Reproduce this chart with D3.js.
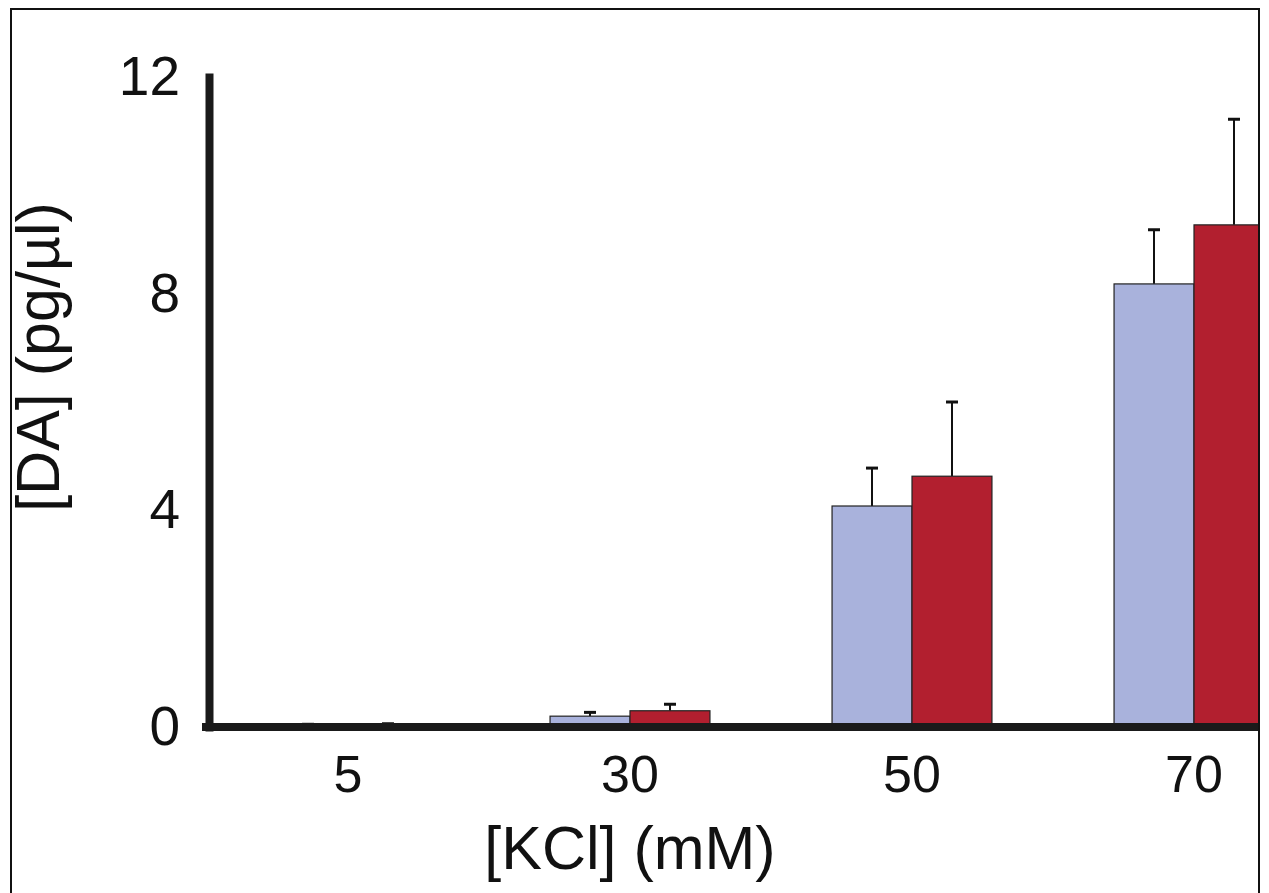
<!DOCTYPE html>
<html><head><meta charset="utf-8">
<script src="https://cdn.jsdelivr.net/npm/d3@7"></script>
<style>
html,body{margin:0;padding:0;background:#fff;}
svg{display:block;font-family:"Liberation Sans",Arial,sans-serif;}
</style></head>
<body><svg id="c" width="1269" height="893"></svg>
<script>
const categories = ["5", "30", "50", "70"];
const seriesNames = ["control", "treated"];
const controlValues = [0.03, 0.20, 4.08, 8.18];
const treatedValues = [0.04, 0.30, 4.63, 9.27];
const controlErrors = [0.02, 0.07, 0.70, 1.00];
const treatedErrors = [0.02, 0.12, 1.37, 1.95];
const yTicks = [0, 4, 8, 12];
const xTitle = "[KCl] (mM)";
const yTitle = "[DA] (pg/µl)";

const colors = {control: "#a9b2dc", treated: "#b21f2f"};
const svg = d3.select("#c");

const x = d3.scaleBand().domain(categories).range([207, 1335]).paddingInner(0.433).paddingOuter(0.2165);
const xs = d3.scaleBand().domain(seriesNames).range([0, x.bandwidth()]);
const y = d3.scaleLinear().domain([0, 12]).range([727, 77]);

const rows = categories.map((c, i) => ({
  cat: c,
  items: [
    {s: "control", v: controlValues[i], e: controlErrors[i]},
    {s: "treated", v: treatedValues[i], e: treatedErrors[i]}
  ]
}));

// frame
svg.append("rect").attr("x", 11).attr("y", 9).attr("width", 1248).attr("height", 900)
  .attr("fill", "none").attr("stroke", "#111").attr("stroke-width", 2);

svg.append("clipPath").attr("id", "clip").append("rect")
  .attr("x", 200).attr("y", 0).attr("width", 1058).attr("height", 893);

const plot = svg.append("g").attr("clip-path", "url(#clip)");

const g = plot.selectAll("g.grp").data(rows).join("g")
  .attr("transform", d => `translate(${x(d.cat)},0)`);

// error bars
g.selectAll("g.err").data(d => d.items).join("g").each(function(d) {
  const cx = xs(d.s) + xs.bandwidth() / 2;
  const sel = d3.select(this);
  sel.append("line").attr("x1", cx).attr("x2", cx).attr("y1", y(d.v)).attr("y2", y(d.v + d.e))
    .attr("stroke", "#111").attr("stroke-width", 2);
  sel.append("line").attr("x1", cx - 6).attr("x2", cx + 6).attr("y1", y(d.v + d.e)).attr("y2", y(d.v + d.e))
    .attr("stroke", "#111").attr("stroke-width", 3);
});

g.selectAll("rect").data(d => d.items).join("rect")
  .attr("x", d => xs(d.s)).attr("width", xs.bandwidth())
  .attr("y", d => y(d.v)).attr("height", d => y(0) - y(d.v))
  .attr("fill", d => colors[d.s]).attr("stroke", "#222").attr("stroke-width", 1.2);

// x axis baseline
plot.append("line").attr("x1", 202).attr("x2", 1262).attr("y1", y(0)).attr("y2", y(0))
  .attr("stroke", "#1a1a1a").attr("stroke-width", 8);

// y axis
const yAxis = svg.append("g").attr("transform", "translate(209,0)")
  .call(d3.axisLeft(y).tickValues(yTicks).tickSize(0).tickSizeOuter(0).tickPadding(29).tickFormat(d3.format("d")));
yAxis.select(".domain").attr("stroke", "#1a1a1a").attr("stroke-width", 8).attr("stroke-linecap", "square");
yAxis.selectAll("text").attr("font-size", 55).attr("fill", "#111").attr("font-family", "Liberation Sans, Arial, sans-serif");

// x axis labels
const xAxis = svg.append("g").attr("transform", `translate(0,${y(0)})`)
  .call(d3.axisBottom(x).tickSize(0).tickSizeOuter(0).tickPadding(28));
xAxis.select(".domain").remove();
xAxis.selectAll("text").attr("font-size", 52).attr("fill", "#111").attr("font-family", "Liberation Sans, Arial, sans-serif");

// titles
svg.append("text").attr("x", 630).attr("y", 869).attr("text-anchor", "middle")
  .attr("font-size", 61).attr("fill", "#111").text(xTitle);
svg.append("text").attr("transform", "translate(59,357) rotate(-90)").attr("text-anchor", "middle")
  .attr("font-size", 61).attr("fill", "#111").text(yTitle);
</script></body></html>
